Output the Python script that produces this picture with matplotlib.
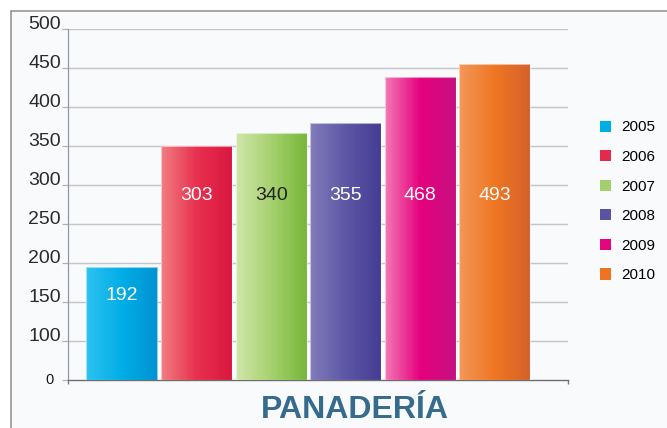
import numpy as np
import matplotlib
matplotlib.use("Agg")
import matplotlib.pyplot as plt
from matplotlib.patches import Rectangle, Patch
from matplotlib.colors import LinearSegmentedColormap

# ---------------- data ----------------
years = ["2005", "2006", "2007", "2008", "2009", "2010"]
bar_heights = [195, 350, 367, 380, 439, 455]      # heights as drawn against the axis
value_labels = ["192", "303", "340", "355", "468", "493"]  # numbers printed on the bars
y_ticks = [0, 100, 150, 200, 250, 300, 350, 400, 450, 500]
title = "PANADERÍA"

# ---------------- styles ----------------
grad_colors = [
    ["#2cc1ef", "#00ade6", "#0092d1"],
    ["#f07c80", "#e8304f", "#d9173f"],
    ["#d0e5aa", "#a6d16f", "#77b73b"],
    ["#807bb9", "#5d56a5", "#453c93"],
    ["#f278b3", "#e6007e", "#c6107f"],
    ["#f29657", "#ef7622", "#d5612a"],
]
legend_colors = ["#00aee8", "#e42a4c", "#a3cf6c", "#5a53a3", "#e4067f", "#ee7424"]
label_colors = ["white", "white", "#222222", "white", "white", "white"]

plt.rcParams["font.family"] = ["Liberation Sans", "DejaVu Sans"]

W, H = 667, 428
fig = plt.figure(figsize=(W / 100, H / 100), dpi=100, facecolor="white")

# outer panel frame
frame = Rectangle((11 / W, -0.2), 1.2, 1 - 11 / H + 0.2, transform=fig.transFigure,
                  facecolor="#f9fafc", edgecolor="#8e8e8e", linewidth=1.1, zorder=-5)
fig.patches.append(frame)

ax_l, ax_r, ax_t, ax_b = 68, 568, 29, 380
ax = fig.add_axes([ax_l / W, 1 - ax_b / H, (ax_r - ax_l) / W, (ax_b - ax_t) / H])
ax.set_facecolor("none")
ax.set_zorder(2)


# broken axis: 0..100 occupies one step, then 50 per step
def fwd(v):
    v = np.asarray(v, dtype=float)
    return np.where(v < 100, v / 100.0, 1 + (v - 100) / 50.0)


def inv(u):
    u = np.asarray(u, dtype=float)
    return np.where(u < 1, u * 100.0, 100 + (u - 1) * 50.0)


ax.set_yscale("function", functions=(fwd, inv))
ax.set_ylim(0, 500)
ax.set_xlim(-0.724, 5.982)

x = np.arange(len(years))
bw = 0.952
nstrip = 60
for i, (xc, h) in enumerate(zip(x, bar_heights)):
    cmap = LinearSegmentedColormap.from_list("g%d" % i, grad_colors[i])
    edges = np.linspace(xc - bw / 2, xc + bw / 2, nstrip + 1)
    cols = cmap(np.linspace(0, 1, nstrip))
    ax.bar(edges[:-1], [h] * nstrip, width=(bw / nstrip) * 1.08, align="edge",
           color=cols, linewidth=0, antialiased=False, zorder=3)
    ax.bar(xc, h, width=bw, facecolor="none", edgecolor=(1, 1, 1, 0.55),
           linewidth=0.8, zorder=4)
    # label position: fixed height, or just below the top for short bars
    ly = min(287.0, float(inv(fwd(h) - 0.744)))
    ax.text(xc, ly, value_labels[i], ha="center", va="center", fontsize=14,
            color=label_colors[i], zorder=5)

# grid
for t in y_ticks[1:]:
    ax.axhline(t, color="#c6c6c6", linewidth=1.05, zorder=1)

ax.set_yticks(y_ticks)
ax.set_yticklabels(["" if t == 0 else str(t) for t in y_ticks])
ax.tick_params(axis="y", length=4, width=0.9, color="#b0b4b8", pad=1.2,
               labelcolor="#2a2a2a", labelsize=14)
for tk, t in zip(ax.yaxis.get_major_ticks(), y_ticks):
    if t == 0:
        tk.tick1line.set_color("#707070")
    else:
        tk.label1.set_verticalalignment("baseline")
# the "0" label sits further out and smaller
ax.annotate(str(y_ticks[0]), xy=(0, y_ticks[0]), xycoords=("axes fraction", "data"),
            xytext=(-10.3, 0), textcoords="offset points", ha="right", va="center",
            fontsize=10.5, color="#1a1a1a")

ax.set_xticks([-0.724, 5.982])
ax.set_xticklabels(["", ""])
ax.tick_params(axis="x", length=3, width=1.0, color="#7a7a7a")

for s in ["top", "right"]:
    ax.spines[s].set_visible(False)
ax.spines["left"].set_color("#8d9aa6")
ax.spines["left"].set_linewidth(0.9)
ax.spines["bottom"].set_color("#6e6e6e")
ax.spines["bottom"].set_linewidth(1.0)

# legend
handles = [Patch(facecolor=c, edgecolor="none") for c in legend_colors]
fig.legend(handles, years, loc="center left",
           bbox_to_anchor=(600 / W, 1 - 201.4 / H), frameon=False,
           fontsize=11, handlelength=0.75, handleheight=0.75,
           handletextpad=0.65, labelspacing=1.02, borderpad=0, borderaxespad=0)

fig.text(355 / W, 1 - 410.5 / H, title, ha="center", va="center",
         fontsize=23, fontweight="bold", color="#376b8e")

fig.savefig("out.png", dpi=100, facecolor="white")
